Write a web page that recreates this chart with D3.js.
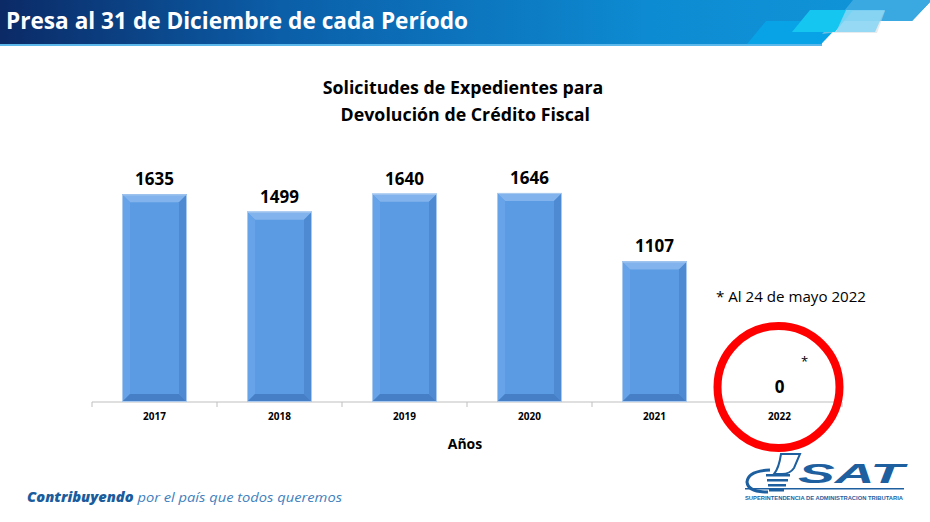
<!DOCTYPE html>
<html>
<head>
<meta charset="utf-8">
<script src="https://cdn.jsdelivr.net/npm/d3@7"></script>
<style>
  body { margin: 0; background: #fff; }
  svg { display: block; font-family: "Open Sans", sans-serif; }
</style>
</head>
<body>
<svg width="930" height="522"></svg>
<script>
var svg = d3.select('svg');

// Data
var years = ["2017", "2018", "2019", "2020", "2021", "2022"];
var solicitudes = [1635, 1499, 1640, 1646, 1107, 0];
var titleLines = ["Solicitudes de Expedientes para", " Devolución de Crédito Fiscal"];
var nota = "* Al 24 de mayo 2022";

// Header band
var defs = svg.append("defs");
var grad = defs.append("linearGradient").attr("id", "hdr").attr("x1", 0).attr("x2", 1);
grad.append("stop").attr("offset", "0%").attr("stop-color", "#0b2a66");
grad.append("stop").attr("offset", "30%").attr("stop-color", "#0b5ea8");
grad.append("stop").attr("offset", "70%").attr("stop-color", "#0d8bd2");
grad.append("stop").attr("offset", "100%").attr("stop-color", "#1296d9");

svg.append("rect").attr("x", 0).attr("y", 43).attr("width", 822).attr("height", 3).attr("fill", "#5cb8ea");
svg.append("polygon")
  .attr("points", "0,0 930,0 930,2 912,21 843,21 821,44 0,44")
  .attr("fill", "url(#hdr)");
svg.append("polygon")
  .attr("points", "853,0 930,0 930,2 912,21 836,21")
  .attr("fill", "#3aa9e2");
svg.append("polygon")
  .attr("points", "747,44 766,21 843,21 821,44")
  .attr("fill", "#07a3e6");
svg.append("polygon")
  .attr("points", "830,33 822,34 826,30 843,11 885,11 877,33")
  .attr("fill", "#cfd8dd").attr("opacity", 0.5);
svg.append("polygon")
  .attr("points", "792,32 810,10 853,10 835,32")
  .attr("fill", "#14c6f0");
svg.append("polygon")
  .attr("points", "836,32 846,10 885,10 875,32")
  .attr("fill", "#86d6f5").attr("opacity", 0.85);

svg.append("text")
  .attr("x", 6).attr("y", 29)
  .attr("fill", "#fff")
  .attr("font-size", 23).attr("font-weight", "bold")
  .attr("textLength", 462).attr("lengthAdjust", "spacingAndGlyphs")
  .text("Presa al 31 de Diciembre de cada Período");

// Chart title
svg.selectAll(".title").data(titleLines).enter().append("text")
  .attr("class", "title")
  .attr("x", 463).attr("y", (d, i) => 94 + i * 27)
  .attr("text-anchor", "middle")
  .attr("font-size", 17.8).attr("font-weight", "bold")
  .attr("fill", "#000")
  .style("white-space", "pre")
  .text(d => d);

// Scales
var x = d3.scaleBand().domain(years).range([92, 842]).paddingInner(0.48).paddingOuter(0.24);
var y = d3.scaleLinear().domain([0, 2000]).range([402, 148]);

// Axis
var step = x.step();
var bounds = d3.range(years.length + 1).map(i => 92 + i * step);
svg.append("line").attr("x1", 92).attr("x2", 842).attr("y1", y(0)).attr("y2", y(0))
  .attr("stroke", "#bfbfbf").attr("stroke-width", 1);
svg.selectAll(".tickm").data(bounds).enter().append("line")
  .attr("x1", d => d).attr("x2", d => d).attr("y1", y(0)).attr("y2", y(0) + 5)
  .attr("stroke", "#bfbfbf");

var xAxis = svg.append("g").attr("transform", "translate(0," + (y(0) + 5) + ")")
  .call(d3.axisBottom(x).tickSize(0).tickPadding(6));
xAxis.select(".domain").remove();
xAxis.selectAll("text").attr("font-size", 10).attr("font-weight", "bold")
  .attr("font-family", "Open Sans").attr("fill", "#000");

svg.append("text").attr("x", 465).attr("y", 449).attr("text-anchor", "middle")
  .attr("font-size", 14).attr("font-weight", "bold").text("Años");

// Bevelled bars
var bv = 8;
var bars = svg.selectAll(".bar").data(years.map((d, i) => ({ year: d, v: solicitudes[i] })))
  .enter().append("g").attr("class", "bar")
  .filter(d => d.v > 0);

bars.append("rect")
  .attr("x", d => x(d.year)).attr("y", d => y(d.v))
  .attr("width", x.bandwidth()).attr("height", d => y(0) - y(d.v))
  .attr("fill", "#5b9be3");

function facet(pts) {
  return pts.map(p => p.join(",")).join(" ");
}
// top
bars.append("polygon").attr("fill", "#82b3ec").attr("points", d => {
  var x0 = x(d.year), x1 = x0 + x.bandwidth(), t = y(d.v);
  return facet([[x0, t], [x1, t], [x1 - bv, t + bv], [x0 + bv, t + bv]]);
});
// left
bars.append("polygon").attr("fill", "#67a3e8").attr("points", d => {
  var x0 = x(d.year), t = y(d.v), b = y(0);
  return facet([[x0, t], [x0 + bv, t + bv], [x0 + bv, b - bv], [x0, b]]);
});
// right
bars.append("polygon").attr("fill", "#4e8ad2").attr("points", d => {
  var x1 = x(d.year) + x.bandwidth(), t = y(d.v), b = y(0);
  return facet([[x1, t], [x1 - bv, t + bv], [x1 - bv, b - bv], [x1, b]]);
});
// bottom
bars.append("polygon").attr("fill", "#467fc6").attr("points", d => {
  var x0 = x(d.year), x1 = x0 + x.bandwidth(), b = y(0);
  return facet([[x0, b], [x0 + bv, b - bv], [x1 - bv, b - bv], [x1, b]]);
});
bars.append("rect")
  .attr("x", d => x(d.year) + 0.5).attr("y", d => y(d.v) + 0.5)
  .attr("width", x.bandwidth() - 1).attr("height", d => y(0) - y(d.v) - 1)
  .attr("fill", "none").attr("stroke", "#a9c9ef").attr("stroke-width", 1);

// Value labels
svg.selectAll(".val").data(solicitudes).enter().append("text")
  .attr("class", "val")
  .attr("x", (d, i) => x(years[i]) + x.bandwidth() / 2)
  .attr("y", d => y(d) - 9)
  .attr("text-anchor", "middle")
  .attr("font-size", 17).attr("font-weight", "bold")
  .text(d => d);

// Note and circle around 2022
var cx = x("2022") + x.bandwidth() / 2;
svg.append("circle").attr("cx", cx - 1).attr("cy", 387).attr("r", 61)
  .attr("fill", "none").attr("stroke", "#ff0000").attr("stroke-width", 8);
svg.append("text").attr("x", cx + 25).attr("y", 366).attr("text-anchor", "middle")
  .attr("font-size", 13).text("*");
svg.append("text").attr("x", 716).attr("y", 302)
  .attr("font-size", 15).attr("textLength", 150).attr("lengthAdjust", "spacingAndGlyphs")
  .text(nota);

// Footer slogan
var slogan = svg.append("text").attr("x", 27).attr("y", 502)
  .attr("font-size", 13.5).attr("font-style", "italic")
  .attr("textLength", 315).attr("lengthAdjust", "spacingAndGlyphs");
slogan.append("tspan").attr("font-weight", "900").attr("fill", "#1b5c9c").text("Contribuyendo");
slogan.append("tspan").attr("fill", "#3f7fbd").text(" por el país que todos queremos");

// SAT logo
var logo = svg.append("g").attr("fill", "#1d5f9f");
logo.append("text").attr("x", 798).attr("y", 483)
  .attr("font-family", "Liberation Sans").attr("font-size", 27)
  .attr("font-weight", "bold").attr("font-style", "italic")
  .attr("textLength", 106).attr("lengthAdjust", "spacingAndGlyphs")
  .text("SAT");
logo.append("path")
  .attr("d", "M781,454 L800,454 L794,468 Q790,474 782,474 L774,474 Q779,468 781,454 Z")
  .attr("fill", "none").attr("stroke", "#1d5f9f").attr("stroke-width", 2);
logo.append("path")
  .attr("d", "M770,470 Q748,471 747,482 Q748,492 768,492")
  .attr("fill", "none").attr("stroke", "#1d5f9f").attr("stroke-width", 3);
logo.selectAll(".stripe").data([474, 479, 484, 489]).enter().append("rect")
  .attr("x", (d, i) => 766 + i).attr("y", d => d).attr("width", (d, i) => 24 - i * 3).attr("height", 2.5);
logo.append("rect").attr("x", 745).attr("y", 488).attr("width", 159).attr("height", 1.5);
logo.append("text").attr("x", 745).attr("y", 500)
  .attr("font-family", "Liberation Sans").attr("font-size", 6).attr("font-weight", "bold")
  .attr("textLength", 158).attr("lengthAdjust", "spacingAndGlyphs")
  .text("SUPERINTENDENCIA DE ADMINISTRACION TRIBUTARIA");
</script>
</body>
</html>
